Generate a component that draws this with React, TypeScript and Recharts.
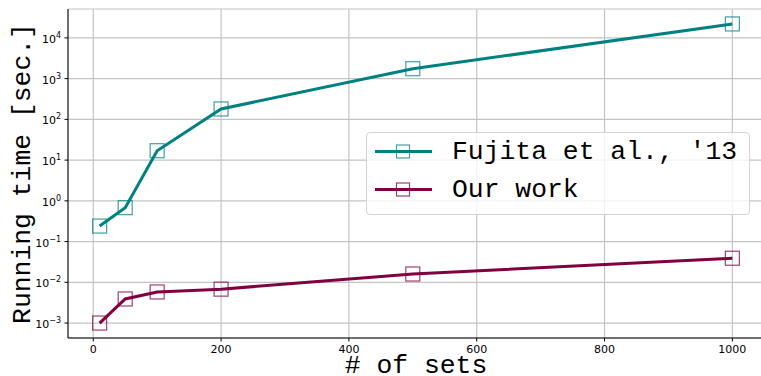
import React from "react";
import {
  LineChart,
  Line,
  XAxis,
  YAxis,
  CartesianGrid,
  Legend,
} from "recharts";

// number of sets on the x axis
const setCounts = [10, 50, 100, 200, 500, 1000];
// running time in seconds
const fujitaTimes = [0.24, 0.68, 17, 180, 1750, 22000];
const ourTimes = [0.001, 0.0039, 0.0058, 0.0068, 0.016, 0.039];

const xTicks = [0, 200, 400, 600, 800, 1000];
const yDecades = [1e-3, 1e-2, 1e-1, 1e0, 1e1, 1e2, 1e3, 1e4];

const TEAL = "#008080";
const MAROON = "#800040";
const MONO = '"Liberation Mono", "Courier New", monospace';
const SANS = '"DejaVu Sans", sans-serif';

const seriesInfo = [
  { key: "fujita", name: "Fujita et al., '13", color: TEAL },
  { key: "ours", name: "Our work", color: MAROON },
];

const data = setCounts.map((x, i) => ({
  x,
  fujita: fujitaTimes[i],
  ours: ourTimes[i],
}));

// log domain with matplotlib-like 5% margins
const yDomain = [Math.pow(10, -3.367), Math.pow(10, 4.709)];
const xDomain = [-39.5, 1049.5];

const minorTicks: number[] = [];
for (let e = -4; e <= 4; e++) {
  for (let m = 2; m <= 9; m++) {
    const v = m * Math.pow(10, e);
    if (v > yDomain[0] && v < yDomain[1]) minorTicks.push(v);
  }
}

const MajorYTick = (props: any) => {
  const { x, y, payload } = props;
  const exp = Math.round(Math.log10(payload.value));
  return (
    <g>
      <line x1={x - 3.5} x2={x} y1={y} y2={y} stroke="#000" strokeWidth={1} />
      <text
        x={x - 7}
        y={y + 5}
        textAnchor="end"
        fontFamily={SANS}
        fontSize={11}
        fill="#000"
      >
        10
        <tspan dy={-5} fontSize={8}>
          {exp < 0 ? "\u2212" + Math.abs(exp) : String(exp)}
        </tspan>
      </text>
    </g>
  );
};

const MinorYTick = (props: any) => {
  const { x, y } = props;
  return <line x1={x - 2} x2={x} y1={y} y2={y} stroke="#000" strokeWidth={0.8} />;
};

const SquareDot = (color: string) => (props: any) => {
  const { cx, cy, index } = props;
  if (cx == null || cy == null) return <g key={index} />;
  return (
    <rect
      key={index}
      x={cx - 7}
      y={cy - 7}
      width={14}
      height={14}
      fill="none"
      stroke={color}
      strokeOpacity={0.75}
      strokeWidth={1.2}
    />
  );
};

const XTitle = (props: any) => {
  const { viewBox } = props;
  return (
    <text
      x={viewBox.x + viewBox.width / 2}
      y={373}
      textAnchor="middle"
      fontFamily={MONO}
      fontSize={26.4}
      fill="#000"
    >
      # of sets
    </text>
  );
};

const YTitle = (props: any) => {
  const { viewBox } = props;
  const cy = viewBox.y + viewBox.height / 2;
  return (
    <text
      x={30}
      y={cy}
      transform={`rotate(-90 30 ${cy})`}
      textAnchor="middle"
      fontFamily={MONO}
      fontSize={26.4}
      fill="#000"
    >
      Running time [sec.]
    </text>
  );
};

const renderLegend = () => (
  <div
    style={{
      position: "relative",
      width: 384,
      height: 83,
      boxSizing: "border-box",
      border: "1px solid #d3d3d3",
      borderRadius: 4,
      background: "rgba(255,255,255,0.8)",
      fontFamily: MONO,
      fontSize: 26.4,
      color: "#000",
    }}
  >
    {seriesInfo.map((s, i) => (
      <div
        key={s.key}
        style={{
          position: "absolute",
          left: 0,
          top: i * 38.3,
          height: 37,
          display: "flex",
          alignItems: "center",
          whiteSpace: "pre",
        }}
      >
        <svg width={85} height={37} style={{ display: "block" }}>
          <line x1={8} x2={65} y1={18.5} y2={18.5} stroke={s.color} strokeWidth={3} />
          <rect
            x={29.5}
            y={12}
            width={13}
            height={13}
            fill="none"
            stroke={s.color}
            strokeOpacity={0.75}
            strokeWidth={1.2}
          />
        </svg>
        <span>{s.name}</span>
      </div>
    ))}
  </div>
);

export default function App() {
  return (
    <div
      style={{
        position: "absolute",
        left: 0,
        top: 0,
        width: 761,
        height: 376,
        overflow: "hidden",
        background: "#fff",
      }}
    >
      <LineChart
        width={764}
        height={376}
        data={data}
        margin={{ top: 9, right: 0, bottom: 0, left: 0 }}
      >
        <CartesianGrid
          yAxisId="major"
          stroke="#c4c4c4"
          strokeWidth={1.2}
        />
        <XAxis
          dataKey="x"
          type="number"
          domain={xDomain}
          allowDataOverflow
          ticks={xTicks}
          interval={0}
          height={38}
          tickSize={3.5}
          tickMargin={3.5}
          stroke="#000"
          tick={{ fontFamily: SANS, fontSize: 11, fill: "#000" }}
          label={<XTitle />}
        />
        <XAxis
          xAxisId="top"
          orientation="top"
          dataKey="x"
          type="number"
          domain={xDomain}
          allowDataOverflow
          height={0}
          tick={false}
          tickLine={false}
          stroke="#000"
        />
        <YAxis
          yAxisId="minor"
          width={0}
          scale="log"
          type="number"
          domain={yDomain}
          allowDataOverflow
          ticks={minorTicks}
          interval={0}
          axisLine={false}
          tickLine={false}
          tickSize={0}
          tickMargin={0}
          tick={<MinorYTick />}
        />
        <YAxis
          yAxisId="major"
          width={68}
          scale="log"
          type="number"
          domain={yDomain}
          allowDataOverflow
          ticks={yDecades}
          interval={0}
          stroke="#000"
          tickLine={false}
          tickSize={0}
          tickMargin={0}
          tick={<MajorYTick />}
          label={<YTitle />}
        />
        <Legend
          content={renderLegend}
          layout="horizontal"
          verticalAlign="middle"
          align="center"
          wrapperStyle={{ left: 366, top: 132, width: 384, height: 83 }}
        />
        {seriesInfo.map((s) => (
          <Line
            key={s.key}
            yAxisId="major"
            dataKey={s.key}
            name={s.name}
            stroke={s.color}
            strokeWidth={3}
            type="linear"
            dot={SquareDot(s.color)}
            activeDot={false}
            isAnimationActive={false}
          />
        ))}
      </LineChart>
    </div>
  );
}
